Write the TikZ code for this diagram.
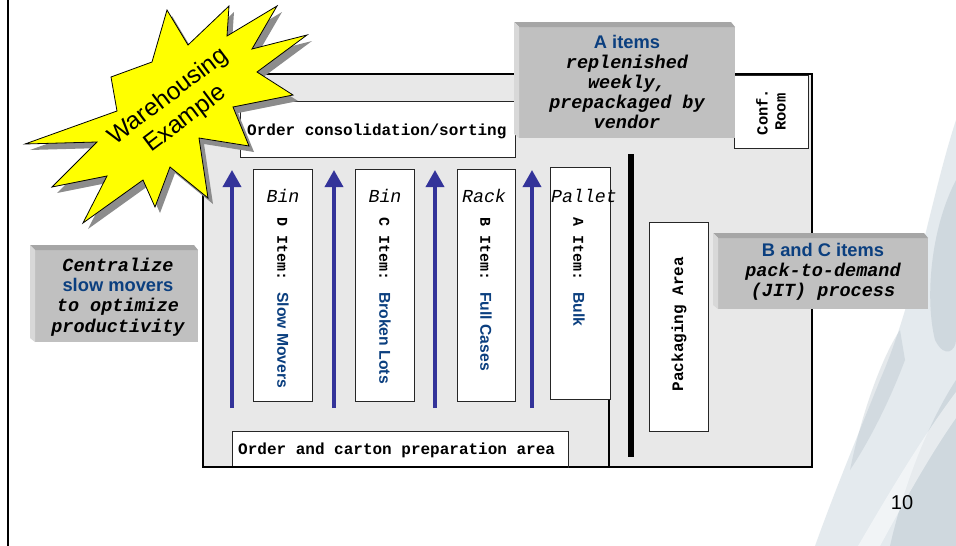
\documentclass[tikz,border=0pt]{standalone}
\usepackage{fontspec}
\setmainfont{Liberation Sans}
\newfontfamily\arial{Liberation Sans}
\newfontfamily\cour{Liberation Mono}
\usetikzlibrary{arrows.meta}
\definecolor{txtblue}{HTML}{0B3F7F}
\definecolor{arrblue}{HTML}{333399}
\definecolor{floorgrey}{HTML}{E8E8E8}
\definecolor{bfront}{HTML}{C0C0C0}
\definecolor{btop}{HTML}{A6A6A6}
\definecolor{bleft}{HTML}{D8D8D8}
\definecolor{staryellow}{HTML}{FFFF00}
\definecolor{bgblue}{HTML}{CBD6DE}
\definecolor{bgdark}{HTML}{A9B7C2}
\newcommand\bevelbox[4]{%
  \fill[bfront] ({#1+5},{#2+5}) rectangle (#3,#4);
  \fill[btop] (#1,#2) -- ({#3-4},#2) -- (#3,{#2+5}) -- ({#1+5},{#2+5}) -- cycle;
  \fill[bleft] (#1,#2) -- ({#1+5},{#2+5}) -- ({#1+5},#4) -- (#1,{#4-4}) -- cycle;
}
\begin{document}
\begin{tikzpicture}[x=1pt,y=-1pt,
  wbox/.style={draw=black!85, line width=1pt, fill=white},
  flow/.style={draw=arrblue, line width=3.5pt, -{Triangle[length=17pt,width=18pt]}},
  lanetxt/.style={rotate=-90, anchor=west, inner sep=0pt},
  bintxt/.style={anchor=base, inner sep=0pt, font=\cour\itshape\fontsize{18.3}{20}\selectfont},
  monotxt/.style={inner sep=0pt, font=\cour\bfseries\fontsize{16}{18}\selectfont},
  notetxt/.style={align=center, inner sep=0pt, font=\cour\bfseries\itshape\fontsize{18.5}{20.2}\selectfont}
]
\useasboundingbox (0,0) rectangle (956,546);
\fill[white] (0,0) rectangle (956,546);

% background texture bottom right
\fill[bgblue, opacity=0.5] (956,120) .. controls (930,200) and (915,300) .. (880,380) .. controls (860,430) and (835,490) .. (815,546) -- (956,546) -- cycle;
\fill[bgdark, opacity=0.35] (956,180) .. controls (930,230) and (925,300) .. (935,340) .. controls (945,360) and (956,350) .. (956,340) -- cycle;
\fill[bgdark, opacity=0.35] (956,380) .. controls (930,420) and (905,480) .. (890,546) -- (956,546) -- cycle;
\fill[bgdark, opacity=0.3] (900,330) .. controls (880,360) and (860,420) .. (850,470) .. controls (870,440) and (890,400) .. (905,360) -- cycle;
\fill[white, opacity=0.5] (956,392) .. controls (920,440) and (885,500) .. (858,546) -- (880,546) .. controls (905,500) and (930,455) .. (956,418) -- cycle;

% left border
\draw[line width=2pt] (8,0) -- (8,546);

% building
\draw[line width=2pt, fill=floorgrey] (203,74) rectangle (812,467);
\draw[line width=2pt] (609,399) -- (609,467);

% order consolidation
\draw[wbox] (240,101) rectangle (515,157);
\node[monotxt, anchor=base west] (consol) at (247,135) {Order consolidation/sorting};

% conf room
\draw[wbox] (734,75) rectangle (808,148);
\node[rotate=90, align=center, inner sep=0pt, font=\cour\bfseries\fontsize{15.5}{18}\selectfont] (conf) at (771,112) {Conf.\\Room};

% thick bar
\fill[black] (628,154) rectangle (634,457);

% packaging area
\draw[wbox] (649,222) rectangle (708,431);
\node[monotxt, rotate=90] (pack) at (679,324) {Packaging Area};

% lanes
\draw[wbox] (253,169) rectangle (312,401);
\draw[wbox] (355,169) rectangle (414,401);
\draw[wbox] (457,169) rectangle (515,401);
\draw[wbox] (550,167) rectangle (610,399);

\node[bintxt] (binD) at (283,202) {Bin};
\node[bintxt] (binC) at (385,202) {Bin};
\node[bintxt] (rackB) at (484,202) {Rack};
\node[bintxt] (palA) at (584,202) {Pallet};

\node[lanetxt] (itemD) at (283,217) {\cour\bfseries\fontsize{15}{15}\selectfont D Item: {\arial\bfseries\fontsize{15.7}{16}\selectfont\color{txtblue}Slow Movers}};
\node[lanetxt] (itemC) at (385,217) {\cour\bfseries\fontsize{15}{15}\selectfont C Item: {\arial\bfseries\fontsize{15.7}{16}\selectfont\color{txtblue}Broken Lots}};
\node[lanetxt] (itemB) at (486,217) {\cour\bfseries\fontsize{15}{15}\selectfont B Item: {\arial\bfseries\fontsize{15.7}{16}\selectfont\color{txtblue}Full Cases}};
\node[lanetxt] (itemA) at (579,217) {\cour\bfseries\fontsize{15}{15}\selectfont A Item: {\arial\bfseries\fontsize{15.7}{16}\selectfont\color{txtblue}Bulk}};

% flow arrows
\coordinate (f1s) at (232,408); \coordinate (f1e) at (232,170);
\coordinate (f2s) at (334,408); \coordinate (f2e) at (334,170);
\coordinate (f3s) at (435,408); \coordinate (f3e) at (435,170);
\coordinate (f4s) at (532,408); \coordinate (f4e) at (532,170);
\draw[flow] (f1s) -- (f1e);
\draw[flow] (f2s) -- (f2e);
\draw[flow] (f3s) -- (f3e);
\draw[flow] (f4s) -- (f4e);

% order and carton
\draw[wbox] (232,431) rectangle (568,467);
\draw[line width=2pt] (232,467) -- (568,467);
\node[monotxt, anchor=base west] (carton) at (238,454) {Order and carton preparation area};

% note boxes
\bevelbox{514}{22}{735}{138}
\node[notetxt] (anote) at (627,82) {{\arial\bfseries\upshape\fontsize{18.3}{20.2}\selectfont\color{txtblue}A items}\\replenished\\weekly,\\prepackaged by\\vendor};

\bevelbox{713}{233}{928}{309}
\node[notetxt] (bcnote) at (823,272) {{\arial\bfseries\upshape\fontsize{18.3}{20.2}\selectfont\color{txtblue}B and C items}\\pack-to-demand\\(JIT) process};

\bevelbox{30}{245}{198}{342}
\node[notetxt] (cnote) at (118,297) {Centralize\\{\arial\bfseries\upshape\fontsize{18.3}{20.2}\selectfont\color{txtblue}slow movers}\\to optimize\\productivity};

% star
\def\starpath{(167,10) -- (188,45) -- (229,6) -- (227,36) -- (277,6) -- (252,49) -- (307,35) -- (257,72) -- (293,95) -- (233,107) -- (249,146) -- (199,138) -- (208,198) -- (170,167) -- (155,207) -- (143,180) -- (83,223) -- (107,176) -- (52,187) -- (97,142) -- (25,144) -- (117,111) -- (111,77) -- (152,62) -- cycle}
\fill[black!45, shift={(5,6)}] \starpath;
\draw[fill=staryellow, line width=0.8pt] \starpath;
\node[rotate=37, align=center, inner sep=0pt, font=\arial\fontsize{24.5}{28}\selectfont] (startxt) at (177,108) {Warehousing\\Example};

% page number
\node[font=\arial\fontsize{20}{20}\selectfont, inner sep=0pt] (pnum) at (902,503) {10};
\end{tikzpicture}
\end{document}
